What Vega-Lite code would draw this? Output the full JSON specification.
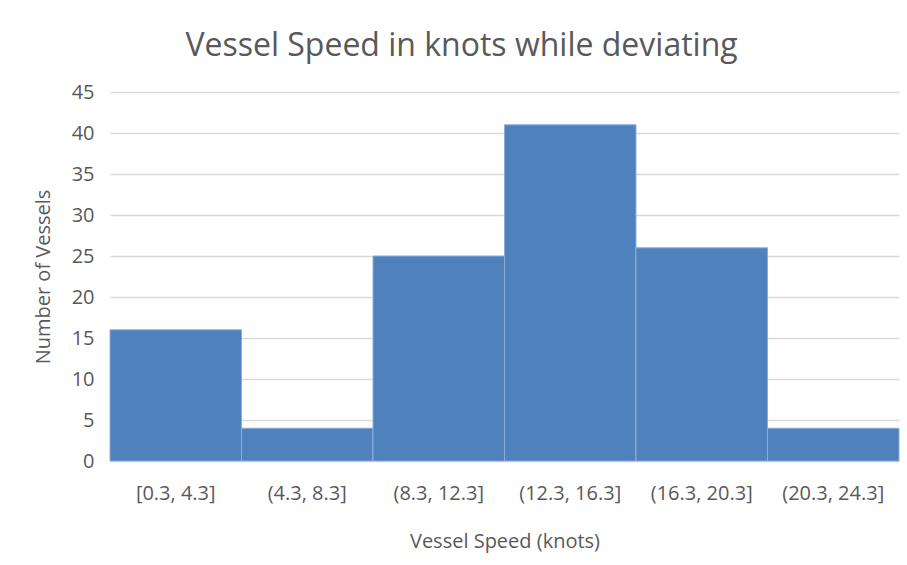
{
  "$schema": "https://vega.github.io/schema/vega-lite/v6.json",
  "width": 789,
  "height": 369,
  "autosize": {"type": "none"},
  "padding": {"left": 110, "top": 92, "right": 8, "bottom": 104},
  "background": "white",
  "title": {
    "text": "Vessel Speed in knots while deviating",
    "font": "Open Sans",
    "fontSize": 32,
    "fontWeight": "normal",
    "color": "#595959",
    "anchor": "middle",
    "offset": 19,
    "dx": -43
  },
  "config": {
    "view": {"stroke": null},
    "font": "Open Sans"
  },
  "data": {
    "values": [
      {"bin": "[0.3, 4.3]", "count": 16},
      {"bin": "(4.3, 8.3]", "count": 4},
      {"bin": "(8.3, 12.3]", "count": 25},
      {"bin": "(12.3, 16.3]", "count": 41},
      {"bin": "(16.3, 20.3]", "count": 26},
      {"bin": "(20.3, 24.3]", "count": 4}
    ]
  },
  "mark": {"type": "bar", "color": "#4f81bd", "stroke": "#8eaedb", "strokeWidth": 1},
  "encoding": {
    "x": {
      "field": "bin",
      "type": "nominal",
      "sort": null,
      "scale": {"paddingInner": 0, "paddingOuter": 0},
      "axis": {
        "title": "Vessel Speed (knots)",
        "labelAngle": 0,
        "labelFontSize": 20,
        "labelColor": "#595959",
        "labelPadding": 22,
        "titleFontSize": 20,
        "titleFontWeight": "normal",
        "titleColor": "#595959",
        "titlePadding": 28,
        "ticks": false,
        "domainColor": "#d9d9d9"
      }
    },
    "y": {
      "field": "count",
      "type": "quantitative",
      "scale": {"domain": [0, 45]},
      "axis": {
        "title": "Number of Vessels",
        "values": [0, 5, 10, 15, 20, 25, 30, 35, 40, 45],
        "labelFontSize": 20,
        "labelColor": "#595959",
        "labelPadding": 16,
        "titleFontSize": 20,
        "titleFontWeight": "normal",
        "titleColor": "#595959",
        "titlePadding": 18,
        "ticks": false,
        "domain": false,
        "gridColor": "#d9d9d9",
        "gridWidth": 1.5
      }
    }
  }
}
